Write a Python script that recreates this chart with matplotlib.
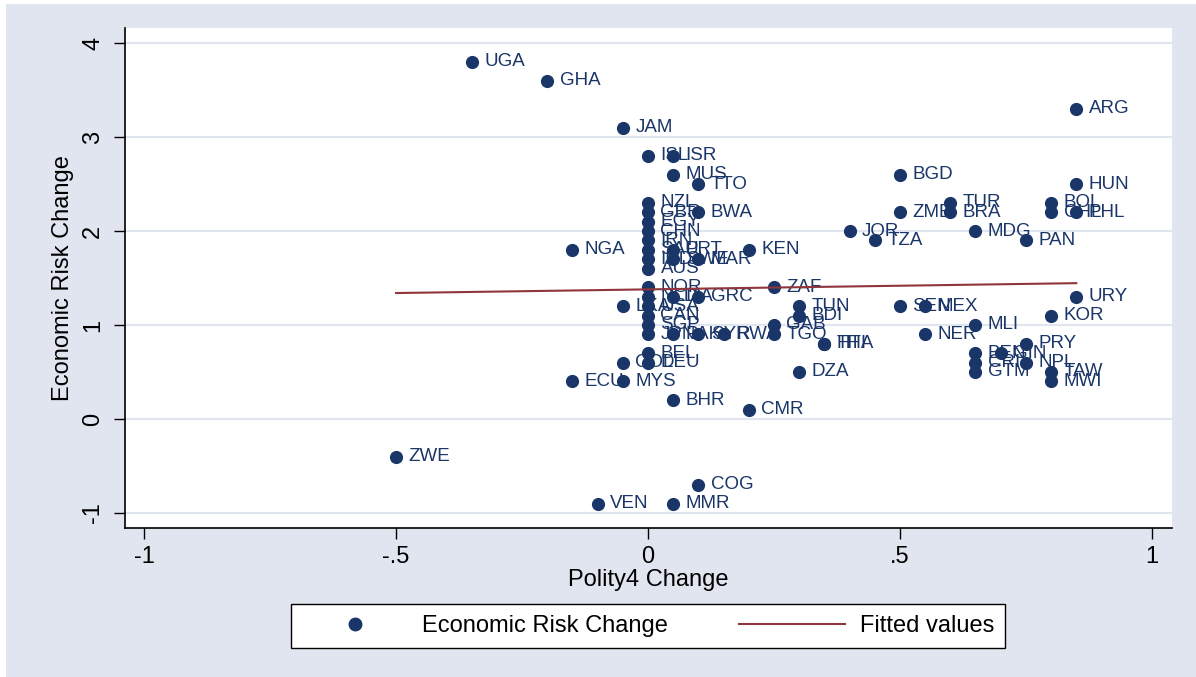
import matplotlib.pyplot as plt
from matplotlib.patches import Rectangle
from matplotlib.lines import Line2D

plt.rcParams['font.family'] = ['Liberation Sans', 'DejaVu Sans']

# country codes, Polity4 change, economic risk change
codes = ["UGA", "GHA", "JAM", "ARG", "ISL", "ISR", "MUS", "TTO", "BGD", "HUN",
         "NZL", "TUR", "BOL", "GBR", "BWA", "ZMB", "BRA", "CHL", "PHL", "EGY",
         "CHN", "JOR", "MDG", "IRN", "TZA", "PAN", "NGA", "SAU", "PRT", "KEN",
         "IND", "SWE", "MAR", "AUS", "NOR", "ZAF", "NLD", "ITA", "GRC", "URY",
         "LKA", "USA", "TUN", "SEN", "MEX", "CAN", "BDI", "KOR", "SGP", "GAB",
         "MLI", "JPN", "PAK", "SYR", "RWA", "TGO", "NER", "HTI", "THA", "PRY",
         "BEL", "BEN", "GIN", "COL", "DEU", "CRI", "NPL", "DZA", "GTM", "TAW",
         "ECU", "MYS", "MWI", "BHR", "CMR", "ZWE", "COG", "VEN", "MMR"]
polity = [-0.35, -0.2, -0.05, 0.85, 0, 0.05, 0.05, 0.1, 0.5, 0.85,
          0, 0.6, 0.8, 0, 0.1, 0.5, 0.6, 0.8, 0.85, 0,
          0, 0.4, 0.65, 0, 0.45, 0.75, -0.15, 0, 0.05, 0.2,
          0, 0.05, 0.1, 0, 0, 0.25, 0, 0.05, 0.1, 0.85,
          -0.05, 0, 0.3, 0.5, 0.55, 0, 0.3, 0.8, 0, 0.25,
          0.65, 0, 0.05, 0.1, 0.15, 0.25, 0.55, 0.35, 0.35, 0.75,
          0, 0.65, 0.7, -0.05, 0, 0.65, 0.75, 0.3, 0.65, 0.8,
          -0.15, -0.05, 0.8, 0.05, 0.2, -0.5, 0.1, -0.1, 0.05]
econ = [3.8, 3.6, 3.1, 3.3, 2.8, 2.8, 2.6, 2.5, 2.6, 2.5,
        2.3, 2.3, 2.3, 2.2, 2.2, 2.2, 2.2, 2.2, 2.2, 2.1,
        2.0, 2.0, 2.0, 1.9, 1.9, 1.9, 1.8, 1.8, 1.8, 1.8,
        1.7, 1.7, 1.7, 1.6, 1.4, 1.4, 1.3, 1.3, 1.3, 1.3,
        1.2, 1.2, 1.2, 1.2, 1.2, 1.1, 1.1, 1.1, 1.0, 1.0,
        1.0, 0.9, 0.9, 0.9, 0.9, 0.9, 0.9, 0.8, 0.8, 0.8,
        0.7, 0.7, 0.7, 0.6, 0.6, 0.6, 0.6, 0.5, 0.5, 0.5,
        0.4, 0.4, 0.4, 0.2, 0.1, -0.4, -0.7, -0.9, -0.9]

# fitted values
fit_x = [-0.5, 0.85]
fit_y = [1.34, 1.445]

xticks = [-1, -0.5, 0, 0.5, 1]
xtick_labels = ["-1", "-.5", "0", ".5", "1"]
yticks = [-1, 0, 1, 2, 3, 4]
ytick_labels = ["-1", "0", "1", "2", "3", "4"]

navy = "#1a3668"
maroon = "#90353b"
bg = "#e1e5f0"

fig = plt.figure(figsize=(11.96, 6.77), dpi=100)
fig.patch.set_facecolor("white")
fig.patches.append(Rectangle((6 / 1196, 0), 1, 1 - 4 / 677, transform=fig.transFigure,
                             facecolor=bg, edgecolor="none", zorder=-10))

ax = fig.add_axes([125 / 1196, 149 / 677, 1047 / 1196, 500 / 677])
ax.set_facecolor("white")

ax.scatter(polity, econ, s=72, color=navy, zorder=3)
for c, x, y in zip(codes, polity, econ):
    ax.annotate(c, (x, y), xytext=(9, 0), textcoords="offset points",
                va="center", ha="left", fontsize=13.5, color=navy, zorder=4)
ax.plot(fit_x, fit_y, color=maroon, lw=1.5, zorder=5)

ax.set_xlim(-1.038, 1.04)
ax.set_ylim(-1.16, 4.16)
ax.set_xticks(xticks)
ax.set_xticklabels(xtick_labels)
ax.set_yticks(yticks)
ax.set_yticklabels(ytick_labels, rotation=90, va="center")
ax.tick_params(axis="both", length=8, width=1, labelsize=17, pad=5)
ax.tick_params(axis="y", pad=7)
ax.grid(axis="y", color=bg, lw=1.5)
ax.set_axisbelow(True)
for s in ["top", "right"]:
    ax.spines[s].set_visible(False)
ax.spines["left"].set_linewidth(1.2)
ax.spines["bottom"].set_linewidth(1.2)

ax.set_xlabel("Polity4 Change", fontsize=17, labelpad=1)
ax.set_ylabel("Economic Risk Change", fontsize=17, labelpad=6)

handles = [Line2D([], [], marker="o", ls="none", color=navy, markersize=9),
           Line2D([], [], color=maroon, lw=1.5)]
leg = fig.legend(handles, ["Economic Risk Change", "Fitted values"],
                 loc="center", bbox_to_anchor=(648 / 1196, 1 - 626 / 677),
                 ncol=2, fontsize=17, frameon=True, fancybox=False,
                 facecolor="white", framealpha=1,
                 edgecolor="black", handlelength=4.5, columnspacing=3,
                 borderpad=0.45, handletextpad=0.6)
leg.get_frame().set_linewidth(1)

fig.savefig("out.png", dpi=100)
